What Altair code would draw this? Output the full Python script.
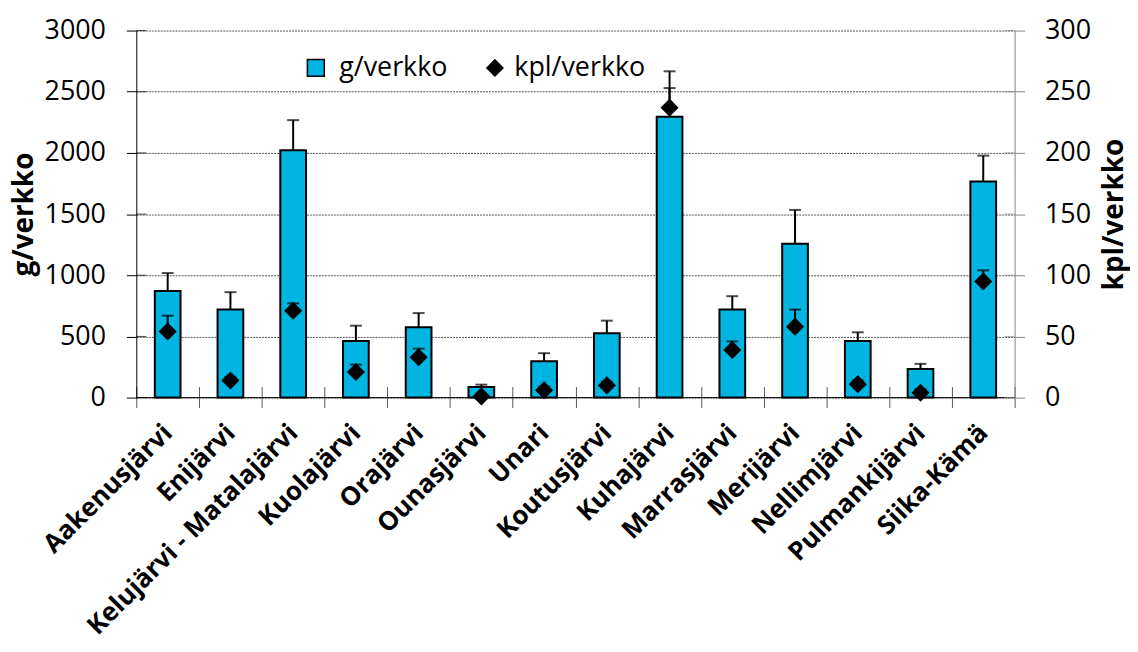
import altair as alt
import pandas as pd

lakes = ["Aakenusjärvi", "Enijärvi", "Kelujärvi - Matalajärvi", "Kuolajärvi",
         "Orajärvi", "Ounasjärvi", "Unari", "Koutusjärvi", "Kuhajärvi",
         "Marrasjärvi", "Merijärvi", "Nellimjärvi", "Pulmankijärvi", "Siika-Kämä"]
g_per_net = [872, 721, 2022, 463, 575, 87, 298, 526, 2295, 721, 1258, 463, 233, 1767]
g_err = [146, 141, 246, 125, 116, 19, 65, 103, 372, 108, 276, 71, 43, 211]
kpl_per_net = [54, 14, 71, 21, 33, 1, 6, 10, 237, 39, 58, 11, 4, 95]
kpl_err = [13, 3, 6, 6, 7, 2, 3, 3, 16, 7, 14, 3, 3, 9]
left_ticks = [0, 500, 1000, 1500, 2000, 2500, 3000]
right_ticks = [0, 50, 100, 150, 200, 250, 300]
series = ["g/verkko", "kpl/verkko"]

df = pd.DataFrame({
    "lake": lakes,
    "g": g_per_net,
    "g_hi": [a + b for a, b in zip(g_per_net, g_err)],
    "kpl": kpl_per_net,
    "kpl_hi": [a + b for a, b in zip(kpl_per_net, kpl_err)],
    "s1": [series[0]] * len(lakes),
    "s2": [series[1]] * len(lakes),
})

W, H = 883, 369
FONT = "Open Sans"
BLUE = "#00B5E2"

left_scale = alt.Scale(domain=[0, 3000], nice=False, zero=True)
right_scale = alt.Scale(domain=[0, 300], nice=False, zero=True)

xaxis = alt.Axis(title=None, labelAngle=-45, labelAlign="right", labelBaseline="middle",
                 labelFont=FONT, labelFontSize=26, labelFontWeight="bold", labelColor="black",
                 labelLimit=1000, labelOverlap=False, tickBand="extent", tickSize=21,
                 tickColor="#595959", tickWidth=1, offset=-11, domain=False,
                 labelPadding=21, grid=False)
xenc = alt.X("lake:N", sort=lakes, scale=alt.Scale(paddingInner=0, paddingOuter=0), axis=xaxis)

left_axis = alt.Axis(values=left_ticks, format="d", title="g/verkko", titleFont=FONT,
                     titleFontSize=28, titleFontWeight="bold", titleColor="black",
                     titleX=-112, titleY=H / 2, titleAngle=270, titleAlign="center",
                     titleBaseline="middle",
                     labelFont=FONT, labelFontSize=27, labelColor="black", labelPadding=21,
                     tickSize=10, tickColor="black", domainColor="black", domainWidth=1,
                     grid=True, gridColor="#555555", gridDash=[2, 1], gridWidth=1, orient="left")
right_axis = alt.Axis(values=right_ticks, format="d", title="kpl/verkko", titleFont=FONT,
                      titleFontSize=28, titleFontWeight="bold", titleColor="black",
                      titleX=100, titleY=H / 2, titleAngle=270, titleAlign="center",
                      titleBaseline="middle",
                      labelFont=FONT, labelFontSize=27, labelColor="black", labelPadding=20,
                      tickSize=10, tickColor="#868686", domainColor="#868686", domainWidth=1,
                      grid=False, orient="right")

base = alt.Chart(df)

bars = base.mark_bar(width=alt.RelativeBandSize(0.41), stroke="black", strokeWidth=2).encode(
    x=xenc,
    y=alt.Y("g:Q", scale=left_scale, axis=left_axis, title="g/verkko"),
    fill=alt.Fill("s1:N", scale=alt.Scale(domain=[series[0]], range=[BLUE]),
                  legend=alt.Legend(orient="none", legendX=167, legendY=24, title=None,
                                    padding=0, labelFont=FONT, labelFontSize=27,
                                    labelColor="black", symbolType="square",
                                    symbolSize=289, symbolStrokeColor="black",
                                    symbolStrokeWidth=1.5, labelOffset=10)),
)
g_stem = base.mark_rule(color="black", strokeWidth=2).encode(
    x=xenc, y=alt.Y("g:Q", scale=left_scale, title="g/verkko"), y2="g_hi:Q")
g_cap = base.mark_tick(color="black", size=12, thickness=2, orient="horizontal").encode(
    x=xenc, y=alt.Y("g_hi:Q", scale=left_scale, title="g/verkko"))
baseline = alt.Chart(pd.DataFrame({"z": [0]})).mark_rule(color="black", strokeWidth=1).encode(
    y=alt.Y("z:Q", scale=left_scale, title="g/verkko"))
left_inner = alt.Chart(pd.DataFrame({"v": left_ticks})).mark_tick(
    orient="horizontal", size=10, thickness=1, color="black").encode(
    y=alt.Y("v:Q", scale=left_scale, title="g/verkko"), x=alt.value(5))

left_group = alt.layer(bars, g_stem, g_cap, baseline, left_inner)

points = base.mark_point(filled=True, size=330, color="black", opacity=1).encode(
    x=xenc,
    y=alt.Y("kpl:Q", scale=right_scale, axis=right_axis, title="kpl/verkko"),
    shape=alt.Shape("s2:N", scale=alt.Scale(domain=[series[1]], range=["diamond"]),
                    legend=alt.Legend(orient="none", legendX=347, legendY=24, title=None,
                                      padding=0, labelFont=FONT, labelFontSize=27,
                                      labelColor="black", symbolSize=330,
                                      symbolFillColor="black", symbolStrokeColor="black",
                                      symbolStrokeWidth=0, labelOffset=6)),
)
k_stem = base.mark_rule(color="black", strokeWidth=2).encode(
    x=xenc, y=alt.Y("kpl:Q", scale=right_scale, title="kpl/verkko"), y2="kpl_hi:Q")
k_cap = base.mark_tick(color="black", size=12, thickness=2, orient="horizontal").encode(
    x=xenc, y=alt.Y("kpl_hi:Q", scale=right_scale, title="kpl/verkko"))
right_inner = alt.Chart(pd.DataFrame({"v": right_ticks})).mark_tick(
    orient="horizontal", size=10, thickness=1, color="#868686").encode(
    y=alt.Y("v:Q", scale=right_scale, title="kpl/verkko"), x=alt.value(W - 5))

right_group = alt.layer(k_stem, points, k_cap, right_inner)

chart = alt.layer(left_group, right_group).resolve_scale(
    y="independent", fill="independent", shape="independent"
).properties(
    width=W, height=H,
    autosize=alt.AutoSizeParams(type="none"),
    padding={"left": 129, "top": 21, "right": 116, "bottom": 244},
    background="white",
).configure_view(stroke=None)

chart.save("out.html", embed_options={"renderer": "svg", "actions": False})
